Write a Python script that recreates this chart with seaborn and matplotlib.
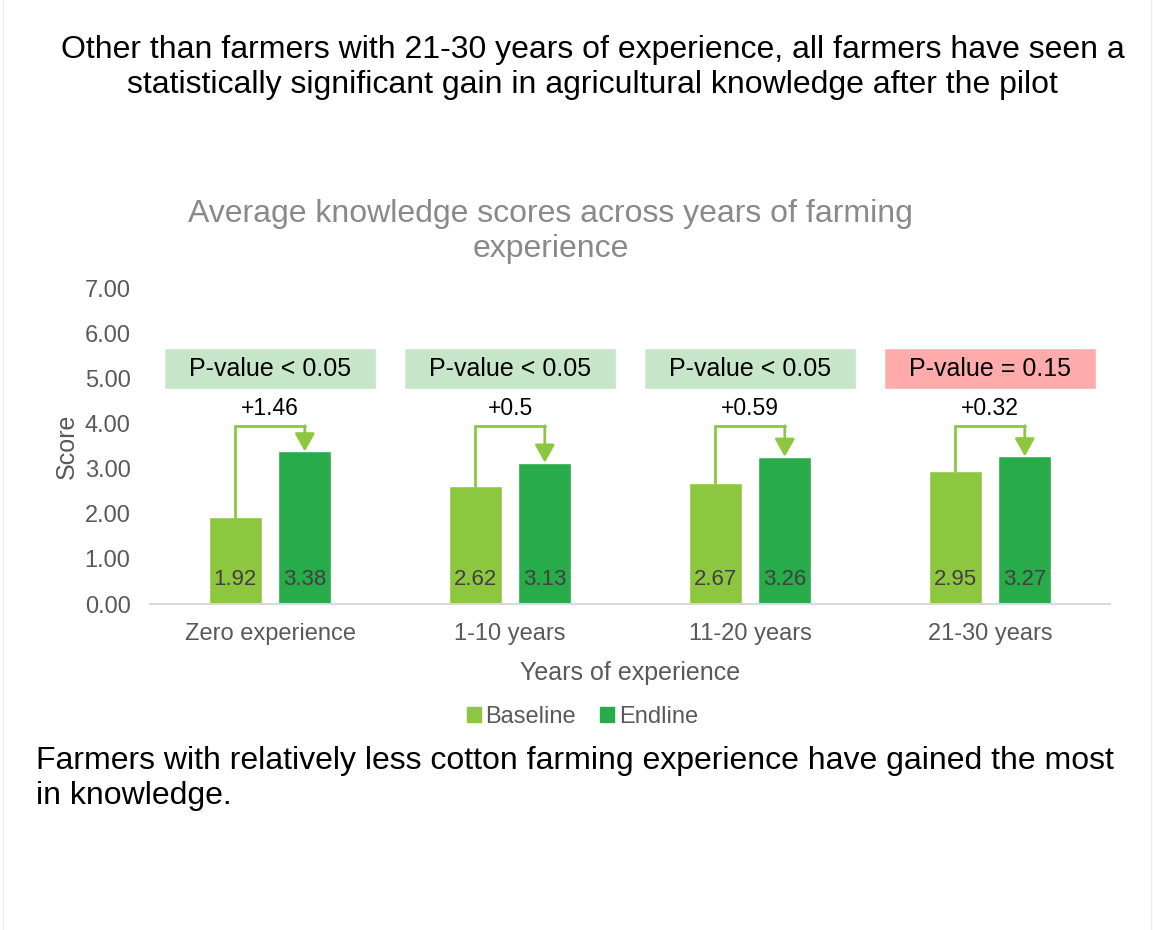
import matplotlib
matplotlib.use("Agg")
import matplotlib.pyplot as plt
from matplotlib.patches import Rectangle
from matplotlib.lines import Line2D
import pandas as pd
import seaborn as sns

# data
groups = ['Zero experience', '1-10 years', '11-20 years', '21-30 years']
baseline = [1.92, 2.62, 2.67, 2.95]
endline = [3.38, 3.13, 3.26, 3.27]
gain_labels = ['+1.46', '+0.5', '+0.59', '+0.32']
p_labels = ['P-value < 0.05', 'P-value < 0.05', 'P-value < 0.05', 'P-value = 0.15']
significant = [True, True, True, False]

df = pd.DataFrame({
    'Years of experience': groups * 2,
    'Score': baseline + endline,
    'Round': ['Baseline'] * len(groups) + ['Endline'] * len(groups),
})

sns.set_style('white')
plt.rcParams['font.family'] = ['Liberation Sans', 'DejaVu Sans']

light_green = '#8DC63F'
dark_green = '#28AB4B'
grey_txt = '#595959'

fig = plt.figure(figsize=(11.53, 9.30), dpi=100)
ax = fig.add_axes([0.1301, 0.3505, 0.8326, 0.3398])

sns.barplot(data=df, x='Years of experience', y='Score', hue='Round',
            palette=[light_green, dark_green], width=0.58, gap=0.24,
            saturation=1, legend=False, ax=ax)

ax.set_ylim(0, 7)
ax.set_xlim(-0.5, len(groups) - 0.5)
ax.set_yticks(range(0, 8))
ax.set_yticklabels([f'{v:.2f}' for v in range(0, 8)])
ax.tick_params(axis='both', length=0, labelsize=17, labelcolor=grey_txt)
ax.tick_params(axis='y', pad=14)
ax.tick_params(axis='x', pad=14)
sns.despine(ax=ax, left=True)
ax.spines['bottom'].set_color('#d9d9d9')
ax.spines['bottom'].set_linewidth(1.5)
ax.set_xlabel('Years of experience', fontsize=18, color=grey_txt, labelpad=11)
ax.set_ylabel('Score', fontsize=18, color=grey_txt, labelpad=4)

base_bars = ax.containers[0]
end_bars = ax.containers[1]

# value labels near the bottom of each bar
for cont in (base_bars, end_bars):
    for bar in cont:
        ax.text(bar.get_x() + bar.get_width() / 2, 0.55, f'{bar.get_height():.2f}',
                ha='center', va='center', fontsize=16, color='#404040')

# gain brackets and p-value boxes
bracket_y = 3.95
for i, (b, e) in enumerate(zip(base_bars, end_bars)):
    xb = b.get_x() + b.get_width() / 2
    xe = e.get_x() + e.get_width() / 2
    ax.plot([xb, xb, xe], [b.get_height(), bracket_y, bracket_y],
            color=light_green, lw=2, solid_joinstyle='miter', zorder=3)
    ax.annotate('', xy=(xe, e.get_height()), xytext=(xe, bracket_y),
                arrowprops=dict(arrowstyle='-|>,head_length=0.9,head_width=0.5',
                                mutation_scale=12, color=light_green, lw=2,
                                shrinkA=0, shrinkB=0), zorder=3)
    ax.text(i, 4.33, gain_labels[i], ha='center', va='center', fontsize=16.5,
            color='black')
    fc = '#C6E5C9' if significant[i] else '#FFABAB'
    ax.add_patch(Rectangle((i - 0.44, 4.76), 0.88, 0.91, facecolor=fc,
                           edgecolor='white', lw=1, clip_on=False, zorder=2))
    ax.text(i, 5.2, p_labels[i], ha='center', va='center', fontsize=18,
            color='black', zorder=4)

# legend
handles = [Rectangle((0, 0), 1, 1, color=light_green),
           Rectangle((0, 0), 1, 1, color=dark_green)]
fig.legend(handles, ['Baseline', 'Endline'], loc='center',
           bbox_to_anchor=(0.505, 0.229), ncol=2, frameon=False,
           fontsize=17, labelcolor=grey_txt, handlelength=0.6, handleheight=0.6,
           handletextpad=0.2, columnspacing=1.0)

# chart title
fig.text(0.4775, 0.770, 'Average knowledge scores across years of farming',
         ha='center', va='center', fontsize=23, color='#898989')
fig.text(0.4775, 0.7325, 'experience', ha='center', va='center', fontsize=23,
         color='#898989')

# slide headline
fig.text(0.514, 0.946,
         'Other than farmers with 21-30 years of experience, all farmers have seen a',
         ha='center', va='center', fontsize=23, color='black')
fig.text(0.514, 0.909,
         'statistically significant gain in agricultural knowledge after the pilot',
         ha='center', va='center', fontsize=23, color='black')

# slide footnote
fig.text(0.0312, 0.182,
         'Farmers with relatively less cotton farming experience have gained the most',
         ha='left', va='center', fontsize=23, color='black')
fig.text(0.0312, 0.144, 'in knowledge.', ha='left', va='center', fontsize=23,
         color='black')

# faint slide border
fig.add_artist(Line2D([0.0025, 0.0025], [0, 1], color='#eeeeee', lw=1))
fig.add_artist(Line2D([0.9985, 0.9985], [0, 1], color='#eeeeee', lw=1))

fig.savefig('out.png', dpi=100, facecolor='white')
